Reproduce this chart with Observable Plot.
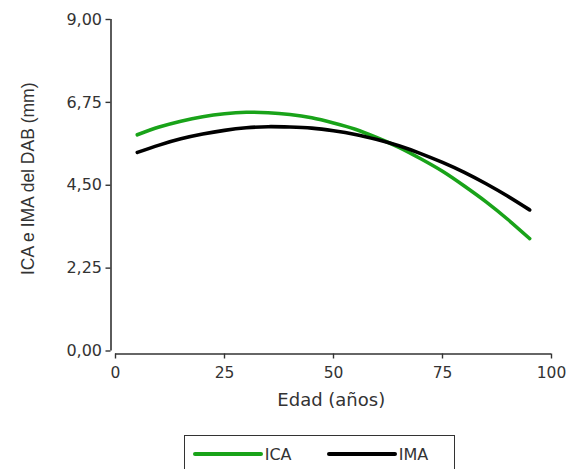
<!DOCTYPE html>
<html>
<head>
<meta charset="utf-8">
<script src="https://cdn.jsdelivr.net/npm/d3@7"></script>
<script src="https://cdn.jsdelivr.net/npm/@observablehq/plot@0.6"></script>
<style>
  html, body { margin: 0; padding: 0; background: #fff; }
  body { position: relative; width: 567px; height: 469px; overflow: hidden; font-family: "DejaVu Sans", sans-serif; color: #333; }
  #legend { position: absolute; left: 184px; top: 435px; width: 271px; height: 50px; border: 1.5px solid #333; box-sizing: border-box; }
  .item { position: absolute; top: 10px; height: 16px; display: flex; align-items: center; font-size: 16px; }
  .swatch { height: 4px; border-radius: 2px; margin-right: 2px; }
</style>
</head>
<body>
<div id="chart"></div>
<div id="legend"></div>
<script>
// Edad (años)
const ages = [5, 10, 15, 20, 25, 30, 35, 40, 45, 50, 55, 60, 65, 70, 75, 80, 85, 90, 95];
// ICA (mm)
const ica = [5.87, 6.08, 6.24, 6.36, 6.44, 6.48, 6.47, 6.42, 6.33, 6.19, 6.02, 5.79, 5.53, 5.22, 4.88, 4.48, 4.05, 3.57, 3.05];
// IMA (mm)
const ima = [5.39, 5.59, 5.76, 5.89, 5.99, 6.06, 6.09, 6.08, 6.05, 5.98, 5.88, 5.74, 5.57, 5.36, 5.12, 4.85, 4.54, 4.20, 3.83];
const seriesNames = ["ICA", "IMA"];
const seriesColors = ["#19a319", "#000000"];
const yTicks = [0, 2.25, 4.5, 6.75, 9];
const xTicks = [0, 25, 50, 75, 100];
const xLabel = "Edad (años)";
const yLabel = "ICA e IMA del DAB (mm)";

const rows = [
  ...ages.map((a, i) => ({edad: a, valor: ica[i], serie: seriesNames[0]})),
  ...ages.map((a, i) => ({edad: a, valor: ima[i], serie: seriesNames[1]}))
];

const H = 430;
const plot = Plot.plot({
  width: 567,
  height: H,
  marginLeft: 110.5,
  marginRight: 16,
  marginTop: 19,
  marginBottom: H - 353.5,
  style: {fontFamily: "DejaVu Sans, sans-serif", fontSize: "16px", color: "#333", background: "#fff"},
  x: {domain: [xTicks[0], xTicks[xTicks.length - 1]], insetLeft: 4.5},
  y: {domain: [yTicks[0], yTicks[yTicks.length - 1]], insetBottom: 3},
  color: {domain: seriesNames, range: seriesColors},
  marks: [
    Plot.ruleX([xTicks[0]], {y1: () => yTicks[0], y2: () => yTicks[yTicks.length - 1], dx: -4.5, stroke: "#333", strokeWidth: 1.6}),
    Plot.ruleY([yTicks[0]], {x1: () => xTicks[0], x2: () => xTicks[xTicks.length - 1], dy: 3, stroke: "#333", strokeWidth: 1.6}),
    Plot.axisY({ticks: yTicks, tickSize: 5, tickPadding: 4, strokeWidth: 1.4,
      tickFormat: d => d.toFixed(2).replace(".", ","), label: null}),
    Plot.axisX({ticks: xTicks, tickSize: 5, tickPadding: 8, strokeWidth: 1.4, fontSize: 15.5,
      tickFormat: d => String(d), label: null}),
    Plot.line(rows, {x: "edad", y: "valor", z: "serie", stroke: "serie", strokeWidth: 3.6, curve: "natural"}),
    Plot.text([xLabel], {text: d => d, frameAnchor: "bottom", dy: 52, lineAnchor: "bottom",
      fontSize: 18, fill: "#333"}),
    Plot.text([yLabel], {text: d => d, frameAnchor: "left", textAnchor: "middle", rotate: -90, dx: -89.5, dy: -8, lineAnchor: "top",
      fontFamily: "Liberation Sans, Arial, sans-serif", fontSize: 17.5, fill: "#333"})
  ]
});
document.getElementById("chart").appendChild(plot);

// legend
const legend = document.getElementById("legend");
const swatchLefts = [7.7, 141.7];
seriesNames.forEach((name, i) => {
  const item = document.createElement("div");
  item.className = "item";
  item.style.left = swatchLefts[i] + "px";
  const sw = document.createElement("div");
  sw.className = "swatch";
  sw.style.width = "70px";
  sw.style.background = seriesColors[i];
  const t = document.createElement("span");
  t.textContent = name;
  item.appendChild(sw);
  item.appendChild(t);
  legend.appendChild(item);
});
</script>
</body>
</html>
